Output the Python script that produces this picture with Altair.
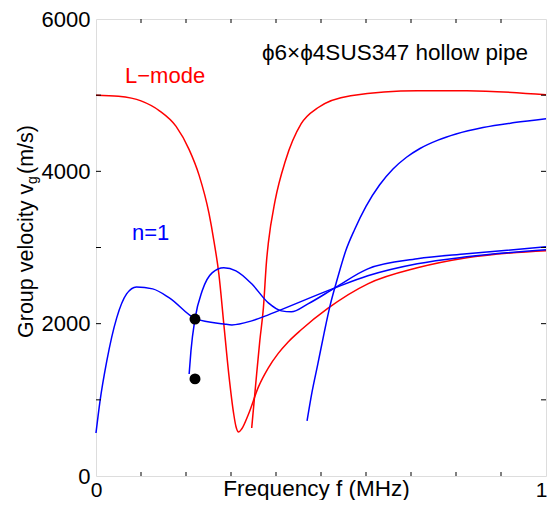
import altair as alt
import pandas as pd

# ---- data ----
L1_F = [0.0, 0.05, 0.10, 0.141, 0.178, 0.207, 0.229, 0.251, 0.262, 0.273, 0.284, 0.295,
        0.306, 0.311, 0.317, 0.324, 0.339, 0.361, 0.383, 0.405, 0.427, 0.456, 0.515, 0.604, 0.714, 0.824, 1.0]
L1_V = [5000, 4985, 4925, 4795, 4590, 4285, 3950, 3450, 3088, 2654, 1997, 1340,
        815, 650, 578, 620, 815, 1170, 1420, 1610, 1760, 1920, 2200, 2523, 2733, 2865, 2957]

L2_F = [0.346, 0.357, 0.364, 0.372, 0.379, 0.383, 0.398, 0.421, 0.456, 0.493, 0.566, 0.714, 0.824, 1.0]
L2_V = [630, 1340, 1774, 2207, 2825, 3060, 3614, 4139, 4625, 4835, 4993, 5059, 5059, 5006]

N1A_F = [0.0, 0.009, 0.024, 0.046, 0.068, 0.090, 0.126, 0.163, 0.222, 0.284, 0.302, 0.346, 0.383,
         0.405, 0.531, 0.604, 0.714, 0.824, 1.0]
N1A_V = [565, 986, 1511, 2076, 2391, 2483, 2457, 2339, 2063, 1997, 1984, 2037, 2116,
         2168, 2470, 2628, 2786, 2878, 2970]

N1B_F = [0.207, 0.211, 0.220, 0.236, 0.258, 0.284, 0.311, 0.346, 0.383, 0.412, 0.434, 0.471, 0.531,
         0.604, 0.714, 0.824, 1.0]
N1B_V = [1340, 1643, 2063, 2431, 2667, 2733, 2694, 2523, 2273, 2168, 2155, 2260, 2470,
         2720, 2851, 2917, 3009]

N1C_F = [0.469, 0.480, 0.493, 0.507, 0.520, 0.537, 0.555, 0.575, 0.600, 0.630, 0.660, 0.690, 0.720,
         0.760, 0.800, 0.860, 0.930, 1.0]
N1C_V = [723, 1100, 1472, 1880, 2234, 2602, 2957, 3240, 3540, 3820, 4030, 4185, 4300,
         4410, 4490, 4575, 4640, 4691]

DOT_F = [0.22, 0.22]
DOT_V = [2060, 1275]

XTICKS = [0.1, 0.2, 0.3, 0.4, 0.5, 0.6, 0.7, 0.8, 0.9]
YTICKS = [1000, 2000, 3000, 4000, 5000]
XLABELS = [0, 1]
YLABELS = [0, 2000, 4000, 6000]

W, H = 450, 457
FONT = "Liberation Sans"

rows = []
for name, col, fs, vs in [("L1", "#ff0000", L1_F, L1_V), ("L2", "#ff0000", L2_F, L2_V),
                          ("N1A", "#0000ff", N1A_F, N1A_V), ("N1B", "#0000ff", N1B_F, N1B_V),
                          ("N1C", "#0000ff", N1C_F, N1C_V)]:
    for f, v in zip(fs, vs):
        rows.append({"curve": name, "color": col, "f": f, "v": v})
lines_df = pd.DataFrame(rows)
dots_df = pd.DataFrame({"f": DOT_F, "v": DOT_V})
xt_df = pd.DataFrame({"f": XTICKS})
yt_df = pd.DataFrame({"v": YTICKS})

xscale = alt.Scale(domain=[0, 1], nice=False, zero=False)
yscale = alt.Scale(domain=[0, 6000], nice=False, zero=False)

xaxis = alt.Axis(values=XLABELS, format="d", ticks=False, domain=False, grid=False, labelFontSize=21,
                 labelFont=FONT, labelColor="black", labelPadding=3, labelFlush=False,
                 labelOffset={"condition": {"test": "datum.value == 1", "value": -5}, "value": 0},
                 title="Frequency f (MHz)", titleFont=FONT, titleFontSize=22.5, titleFontWeight="normal",
                 titleColor="black", titleX=220, titleY=19, titleBaseline="alphabetic", titleAlign="center")
yaxis = alt.Axis(values=YLABELS, format="d", ticks=False, domain=False, grid=False, labelFontSize=22,
                 labelFont=FONT, labelColor="black", labelPadding=6, labelFlush=False, title=None)

lines = alt.Chart(lines_df).mark_line(strokeWidth=1.5, interpolate="monotone").encode(
    x=alt.X("f:Q", scale=xscale, axis=xaxis),
    y=alt.Y("v:Q", scale=yscale, axis=yaxis),
    color=alt.Color("color:N", scale=None),
    detail="curve:N",
)

dots = alt.Chart(dots_df).mark_circle(size=120, color="black", opacity=1).encode(
    x=alt.X("f:Q", scale=xscale), y=alt.Y("v:Q", scale=yscale))

tick_b = alt.Chart(xt_df).mark_rule(color="black", strokeWidth=1).encode(
    x=alt.X("f:Q", scale=xscale), y=alt.value(H), y2=alt.value(H - 4))
tick_t = alt.Chart(xt_df).mark_rule(color="black", strokeWidth=1).encode(
    x=alt.X("f:Q", scale=xscale), y=alt.value(0), y2=alt.value(4))
tick_l = alt.Chart(yt_df).mark_rule(color="black", strokeWidth=1).encode(
    y=alt.Y("v:Q", scale=yscale), x=alt.value(0), x2=alt.value(5))
tick_r = alt.Chart(yt_df).mark_rule(color="black", strokeWidth=1).encode(
    y=alt.Y("v:Q", scale=yscale), x=alt.value(W), x2=alt.value(W - 5))

def label(text, x, y, color="black", size=22, angle=0, align="left"):
    return alt.Chart(pd.DataFrame({"t": [text]})).mark_text(
        font=FONT, fontSize=size, color=color, align=align, baseline="alphabetic", angle=angle
    ).encode(text="t:N", x=alt.value(x), y=alt.value(y))

texts = [
    label("L\u2212mode", 29, 64, "#ff0000"),
    label("n=1", 36, 221, "#0000ff"),
    label("\u03d56\u00d7\u03d54SUS347 hollow pipe", 166, 41, size=22.5),
    label("Group velocity v", -63, 319, angle=270, size=21.5),
    label("g", -59, 165, angle=270, size=14),
    label(" (m/s)", -63, 155, angle=270, size=21.5),
]

chart = alt.layer(lines, dots, tick_b, tick_t, tick_l, tick_r, *texts).properties(
    width=W, height=H,
    autosize=alt.AutoSizeParams(type="none"),
    padding={"left": 88, "top": 11, "right": 1, "bottom": 24},
).configure_view(stroke="#111", strokeWidth=1.6).configure(background="white")

chart.save("out.html", embed_options={"renderer": "svg", "actions": False})
